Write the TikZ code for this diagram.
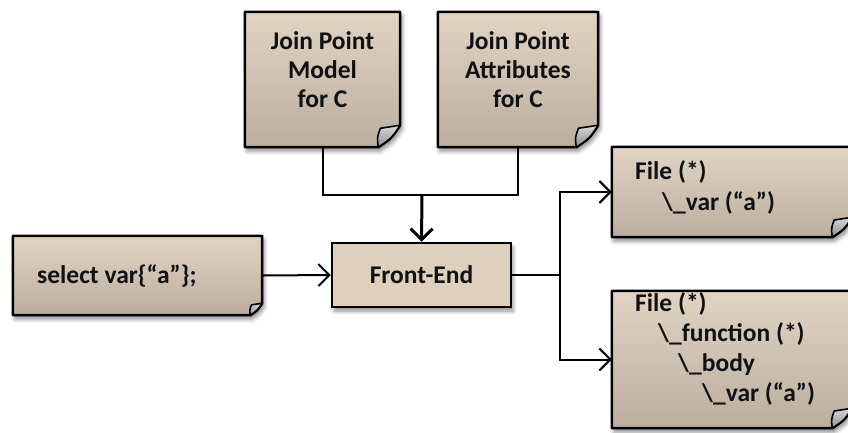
\documentclass[tikz,border=0pt]{standalone}
\usepackage{fontspec}
\setmainfont{Carlito}
\usetikzlibrary{arrows.meta,shadows.blur}
\definecolor{btop}{HTML}{E2D4C3}
\definecolor{bbot}{HTML}{BBAE9F}
\definecolor{fefill}{HTML}{DFD0BD}
\definecolor{txt}{HTML}{111111}
\definecolor{flaptop}{HTML}{D8D8D8}
\definecolor{flapbot}{HTML}{8E8E8E}
\tikzset{
  area/.style={draw=none, inner sep=0pt, minimum width=#1},
  notefill/.style={top color=btop, bottom color=bbot, draw=black, line width=2.5pt, line join=round,
     blur shadow={shadow xshift=2pt, shadow yshift=-4pt, shadow blur radius=4pt, shadow opacity=45}},
  flap/.style={top color=flaptop, bottom color=flapbot, draw=black, line width=1.6pt, line join=round},
  lbl/.style={text=txt, font=\fontsize{25.5}{29}\selectfont\bfseries, inner sep=0pt},
  conn/.style={line width=2pt},
  arr/.style={line width=2pt, -{Straight Barb[length=11pt,width=22pt,line width=2pt]}},
  bigarr/.style={line width=3pt, -{Straight Barb[length=11pt,width=22pt,line width=3pt]}},
}
\newcommand\notebg[2]{%
  \path[notefill] (#1.north west) -- (#1.north east) -- ([shift={(0,-#2)}]#1.south east)
     .. controls ([shift={(-0.4*#2,-0.4*#2)}]#1.south east) .. ([shift={(-#2,0)}]#1.south east)
     -- (#1.south west) -- cycle;
  \path[flap] ([shift={(0,-#2)}]#1.south east) -- ([shift={(-0.9*#2,-0.86*#2)}]#1.south east)
     .. controls ([shift={(-1.05*#2,-0.45*#2)}]#1.south east) .. ([shift={(-#2,0)}]#1.south east)
     .. controls ([shift={(-0.4*#2,-0.4*#2)}]#1.south east) .. cycle;
}
\begin{document}
\begin{tikzpicture}[x=1pt,y=-1pt]
\useasboundingbox (0,0) rectangle (848,432);
% areas of the boxes
\node[area=155pt, minimum height=135pt] (jpm) at (322.5,79.5) {};
\node[area=160pt, minimum height=135pt] (jpa) at (518,79.5) {};
\node[area=249pt, minimum height=79pt] (sel) at (137.5,275.5) {};
\node[area=240pt, minimum height=90pt] (f1) at (732,192) {};
\node[area=240pt, minimum height=137pt] (f2) at (732,359.5) {};
% note shapes
\notebg{jpm}{22}
\notebg{jpa}{22}
\notebg{sel}{12}
\notebg{f1}{20}
\notebg{f2}{20}
% front-end
\node[draw=black, line width=2.5pt, fill=fefill, minimum width=179pt, minimum height=64pt, inner sep=0pt,
  blur shadow={shadow xshift=2pt, shadow yshift=-4pt, shadow blur radius=4pt, shadow opacity=45}] (fe) at (421.5,275) {};
% texts
\node[lbl, align=center] (tjpm) at (322.5,70) {Join Point\\Model\\for C};
\node[lbl, align=center] (tjpa) at (518,70) {Join Point\\Attributes\\for C};
\node[lbl, anchor=base west] (tsel) at (37,283) {select var\{“a”\};};
\node[lbl, anchor=base] (tfe) at (421.5,283) {Front-End};
\node[lbl, anchor=north west, align=left, font=\fontsize{25.5}{31}\selectfont\bfseries] (tf1) at (635,160)
  {File (*)\\\hspace*{27pt}\textbackslash\_var (“a”)};
\node[lbl, anchor=north west, align=left, font=\fontsize{25.5}{30}\selectfont\bfseries] (tf2) at (635,292)
  {File (*)\\\hspace*{23pt}\textbackslash\_function (*)\\\hspace*{43pt}\textbackslash\_body\\\hspace*{67pt}\textbackslash\_var (“a”)};
% connectors
\coordinate (join) at (422,195);
\coordinate (split) at (560,275);
\draw[conn] (jpm.south) |- (join) -| (jpa.south);
\draw[bigarr] (join) -- (fe.north);
\draw[arr] (sel.east) -- (fe.west);
\draw[conn] (fe.east) -- (split);
\draw[arr] (split) |- (f1.west);
\draw[arr] (split) |- (f2.west);
\end{tikzpicture}
\end{document}
